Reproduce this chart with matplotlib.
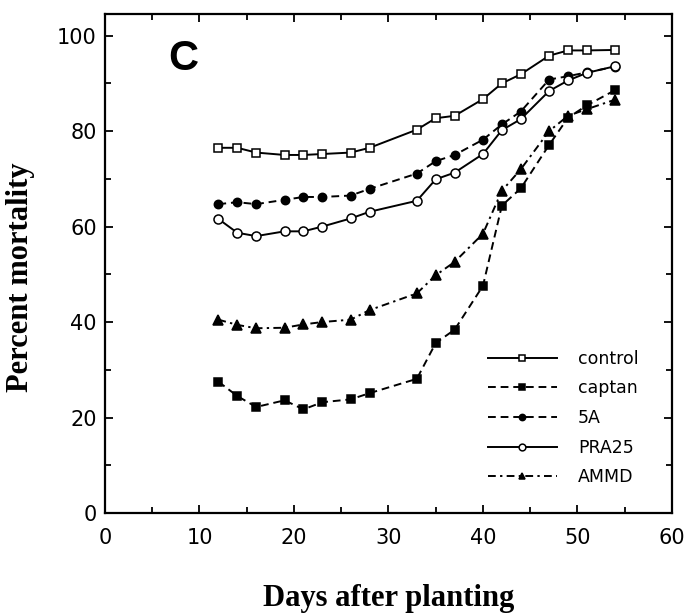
#!/usr/bin/env python3

"""
Percent mortality against days after planting for the five seed treatments
(panel C).
"""

import matplotlib
matplotlib.use("Agg")
import matplotlib.pyplot as plt
from matplotlib.ticker import MultipleLocator

days = [12, 14, 16, 19, 21, 23, 26, 28, 33, 35, 37, 40, 42, 44, 47, 49, 51, 54]

control = [76.5, 76.5, 75.5, 75.0, 75.0, 75.2, 75.5, 76.5, 80.3, 82.7, 83.2,
           86.7, 90.0, 91.9, 95.8, 96.9, 96.9, 97.0]
captan = [27.5, 24.5, 22.2, 23.6, 21.7, 23.2, 23.8, 25.1, 28.1, 35.6, 38.4,
          47.6, 64.4, 68.0, 77.1, 82.8, 85.4, 88.6]
five_a = [64.7, 65.1, 64.7, 65.6, 66.2, 66.2, 66.5, 67.9, 71.1, 73.7, 75.0,
          78.2, 81.4, 84.1, 90.8, 91.5, 92.3, 93.5]
pra25 = [61.6, 58.7, 58.0, 59.0, 59.0, 60.0, 61.7, 63.1, 65.4, 69.9, 71.3,
         75.2, 80.2, 82.5, 88.4, 90.6, 92.2, 93.6]
ammd = [40.5, 39.4, 38.7, 38.8, 39.5, 40.0, 40.5, 42.5, 46.0, 49.8, 52.6,
        58.5, 67.5, 72.0, 80.0, 83.2, 84.6, 86.6]

treatments = ["control", "captan", "5A", "PRA25", "AMMD"]

LW = 1.4
DASHED = (0, (4, 2.5))
DASHDOT = (0, (4, 2.2, 1.2, 2.2))


def main():
    plt.rcParams["font.family"] = "DejaVu Sans"

    fig = plt.figure(figsize=(6.88, 6.15), dpi=100)
    ax = fig.add_axes([0.1526, 0.1659, 0.8241, 0.8111])

    series = [
        (control, dict(ls="-", marker="s", mfc="white", ms=6.2)),
        (captan, dict(ls=DASHED, marker="s", mfc="black", ms=6)),
        (five_a, dict(ls=DASHED, marker="o", mfc="black", ms=6)),
        (pra25, dict(ls="-", marker="o", mfc="white", ms=6.5)),
        (ammd, dict(ls=DASHDOT, marker="^", mfc="black", ms=6.5)),
    ]
    for (values, style), name in zip(series, treatments):
        ax.plot(days, values, color="black", mec="black", mew=1.1, lw=LW,
                label=name, **style)

    ax.set_xlim(0, 60)
    ax.set_ylim(0, 104.5)
    ax.xaxis.set_major_locator(MultipleLocator(10))
    ax.xaxis.set_minor_locator(MultipleLocator(5))
    ax.yaxis.set_major_locator(MultipleLocator(20))
    ax.yaxis.set_minor_locator(MultipleLocator(10))

    ax.tick_params(which="both", direction="in", top=True, right=True,
                   width=1.3, labelsize=15)
    ax.tick_params(which="major", length=6)
    ax.tick_params(which="minor", length=4)
    ax.tick_params(axis="x", which="major", pad=11)
    ax.tick_params(axis="y", which="major", pad=6)
    for spine in ax.spines.values():
        spine.set_linewidth(1.6)

    ax.set_xlabel("Days after planting", family="Liberation Serif",
                  fontweight="bold", fontsize=22, labelpad=26)
    ax.set_ylabel("Percent mortality", family="Liberation Serif",
                  fontweight="bold", fontsize=22)
    ax.yaxis.set_label_coords(-0.123, 0.473)

    ax.text(8.25, 95.2, "C", family="Liberation Sans", fontweight="bold",
            fontsize=30, ha="center", va="center")

    ax.legend(loc="upper left", bbox_to_anchor=(0.675, 0.327), frameon=False,
              fontsize=12.5, borderpad=0, borderaxespad=0, handlelength=4,
              handletextpad=1.2, labelspacing=0.67, markerscale=0.75)

    fig.savefig("out.png")


if __name__ == "__main__":
    main()
